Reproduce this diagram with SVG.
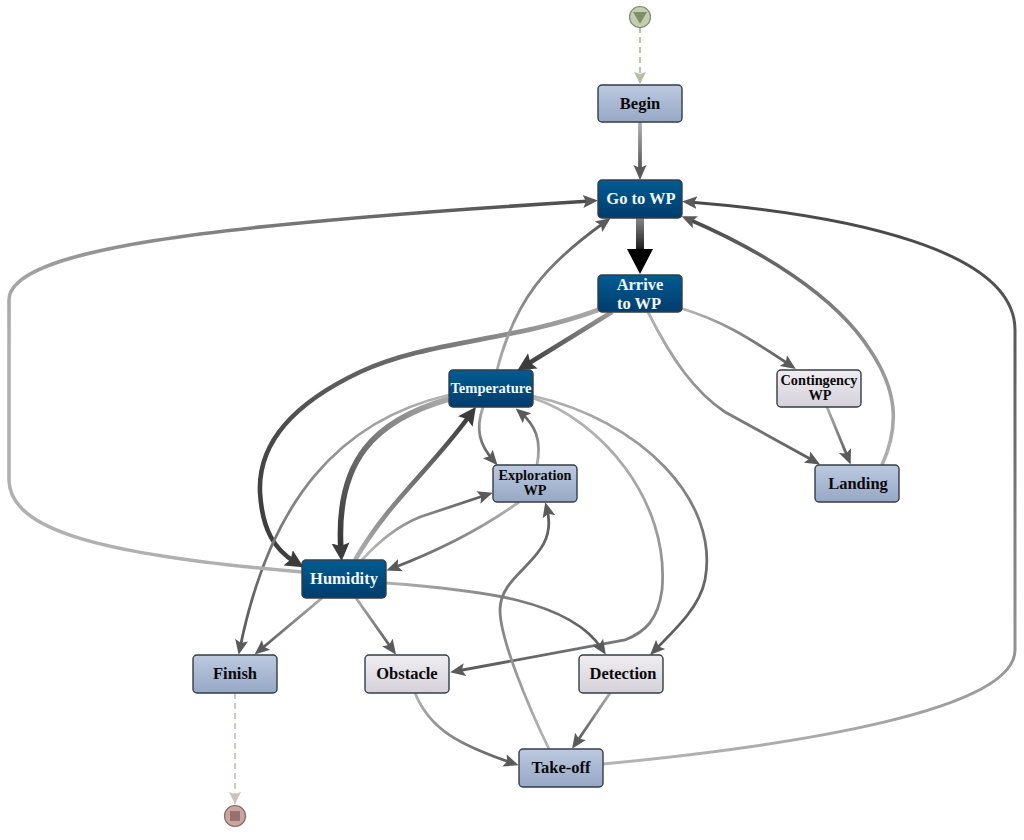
<svg xmlns="http://www.w3.org/2000/svg" width="1024" height="840" viewBox="0 0 1024 840">
<style>
.n{stroke:#333d47;stroke-width:1.4}
.blue{fill:url(#gb)}.dark{fill:url(#gd)}.grey{fill:url(#gg)}
text{font-family:"Liberation Serif","Times New Roman",serif;font-weight:bold;text-anchor:middle;fill:#0a0a0a}
.l{font-size:16.5px}.s{font-size:14.3px}.w{fill:#f4f7fa}
#connectors path{fill:none}
.e{stroke-width:2.8;marker-end:url(#m)}
.t{stroke-width:4.6;marker-end:url(#k)}
</style>
<defs>
<linearGradient id="gb" x1="0" y1="0" x2="0" y2="1"><stop offset="0" stop-color="#bcc9e0"/><stop offset="1" stop-color="#97a8c5"/></linearGradient>
<linearGradient id="gd" x1="0" y1="0" x2="0" y2="1"><stop offset="0" stop-color="#005c92"/><stop offset="1" stop-color="#003c6c"/></linearGradient>
<linearGradient id="gg" x1="0" y1="0" x2="0" y2="1"><stop offset="0" stop-color="#f0edf2"/><stop offset="1" stop-color="#d4d1d9"/></linearGradient>
<marker id="m" markerUnits="userSpaceOnUse" markerWidth="18" markerHeight="18" viewBox="0 0 18 18" refX="8" refY="9" orient="auto"><path d="M0 2.5L15 9L0 15.5L3 9Z" fill="#5a5a5a"/></marker>
<marker id="k" markerUnits="userSpaceOnUse" markerWidth="22" markerHeight="22" viewBox="0 0 22 22" refX="8" refY="11" orient="auto"><path d="M0 2L18 11L0 20L3 11Z" fill="#3c3c3c"/></marker>
<marker id="x" markerUnits="userSpaceOnUse" markerWidth="28" markerHeight="30" viewBox="0 0 28 30" refX="6" refY="15" orient="auto"><path d="M0 2L25 15L0 28Z" fill="#000"/></marker>
<marker id="ds" markerUnits="userSpaceOnUse" markerWidth="14" markerHeight="14" viewBox="0 0 14 14" refX="12" refY="7" orient="auto"><path d="M0 1L12 7L0 13L2 7Z" fill="#b4bfa4"/></marker>
<marker id="de" markerUnits="userSpaceOnUse" markerWidth="14" markerHeight="14" viewBox="0 0 14 14" refX="12" refY="7" orient="auto"><path d="M0 1L12 7L0 13L2 7Z" fill="#cfc2bd"/></marker>
<linearGradient id="a1" gradientUnits="userSpaceOnUse" x1="640" y1="122" x2="640" y2="175"><stop offset="0" stop-color="#b0b0b0"/><stop offset="1" stop-color="#4a4a4a"/></linearGradient>
<linearGradient id="a2" gradientUnits="userSpaceOnUse" x1="640" y1="218" x2="640" y2="258"><stop offset="0" stop-color="#888"/><stop offset="1" stop-color="#000"/></linearGradient>
<linearGradient id="a3" gradientUnits="userSpaceOnUse" x1="612" y1="312" x2="525" y2="366"><stop offset="0" stop-color="#999"/><stop offset="1" stop-color="#3c3c3c"/></linearGradient>
<linearGradient id="a4" gradientUnits="userSpaceOnUse" x1="598" y1="310" x2="262" y2="540"><stop offset="0" stop-color="#aaa"/><stop offset="0.5" stop-color="#666"/><stop offset="1" stop-color="#3c3c3c"/></linearGradient>
<linearGradient id="a5" gradientUnits="userSpaceOnUse" x1="648" y1="312" x2="815" y2="462"><stop offset="0" stop-color="#b4b4b4"/><stop offset="1" stop-color="#5a5a5a"/></linearGradient>
<linearGradient id="a6" gradientUnits="userSpaceOnUse" x1="680" y1="308" x2="790" y2="366"><stop offset="0" stop-color="#b8b8b8"/><stop offset="1" stop-color="#5a5a5a"/></linearGradient>
<linearGradient id="a7" gradientUnits="userSpaceOnUse" x1="827" y1="407" x2="848" y2="458"><stop offset="0" stop-color="#b0b0b0"/><stop offset="1" stop-color="#5a5a5a"/></linearGradient>
<linearGradient id="a8" gradientUnits="userSpaceOnUse" x1="882" y1="465" x2="690" y2="220"><stop offset="0" stop-color="#b0b0b0"/><stop offset="1" stop-color="#4a4a4a"/></linearGradient>
<linearGradient id="a9" gradientUnits="userSpaceOnUse" x1="497" y1="370" x2="605" y2="222"><stop offset="0" stop-color="#aaa"/><stop offset="1" stop-color="#5a5a5a"/></linearGradient>
<linearGradient id="b1" gradientUnits="userSpaceOnUse" x1="483" y1="407" x2="493" y2="460"><stop offset="0" stop-color="#aaa"/><stop offset="1" stop-color="#5a5a5a"/></linearGradient>
<linearGradient id="b2" gradientUnits="userSpaceOnUse" x1="537" y1="465" x2="522" y2="413"><stop offset="0" stop-color="#b0b0b0"/><stop offset="1" stop-color="#5a5a5a"/></linearGradient>
<linearGradient id="b3" gradientUnits="userSpaceOnUse" x1="449" y1="399" x2="342" y2="552"><stop offset="0" stop-color="#aaa"/><stop offset="1" stop-color="#333"/></linearGradient>
<linearGradient id="b4" gradientUnits="userSpaceOnUse" x1="355" y1="560" x2="470" y2="415"><stop offset="0" stop-color="#b0b0b0"/><stop offset="1" stop-color="#3c3c3c"/></linearGradient>
<linearGradient id="b5" gradientUnits="userSpaceOnUse" x1="449" y1="395" x2="240" y2="648"><stop offset="0" stop-color="#b4b4b4"/><stop offset="1" stop-color="#5a5a5a"/></linearGradient>
<linearGradient id="b6" gradientUnits="userSpaceOnUse" x1="533" y1="396" x2="655" y2="650"><stop offset="0" stop-color="#b4b4b4"/><stop offset="1" stop-color="#5a5a5a"/></linearGradient>
<linearGradient id="b7" gradientUnits="userSpaceOnUse" x1="533" y1="398" x2="457" y2="671"><stop offset="0" stop-color="#b4b4b4"/><stop offset="0.6" stop-color="#888"/><stop offset="1" stop-color="#5a5a5a"/></linearGradient>
<linearGradient id="b8" gradientUnits="userSpaceOnUse" x1="302" y1="572" x2="590" y2="200"><stop offset="0" stop-color="#b0b0b0"/><stop offset="1" stop-color="#4a4a4a"/></linearGradient>
<linearGradient id="b9" gradientUnits="userSpaceOnUse" x1="362" y1="560" x2="486" y2="495"><stop offset="0" stop-color="#bbb"/><stop offset="1" stop-color="#5a5a5a"/></linearGradient>
<linearGradient id="c1" gradientUnits="userSpaceOnUse" x1="519" y1="502" x2="393" y2="568"><stop offset="0" stop-color="#b4b4b4"/><stop offset="1" stop-color="#5a5a5a"/></linearGradient>
<linearGradient id="c2" gradientUnits="userSpaceOnUse" x1="322" y1="598" x2="260" y2="650"><stop offset="0" stop-color="#aaa"/><stop offset="1" stop-color="#5a5a5a"/></linearGradient>
<linearGradient id="c3" gradientUnits="userSpaceOnUse" x1="356" y1="598" x2="392" y2="649"><stop offset="0" stop-color="#aaa"/><stop offset="1" stop-color="#5a5a5a"/></linearGradient>
<linearGradient id="c4" gradientUnits="userSpaceOnUse" x1="386" y1="583" x2="602" y2="649"><stop offset="0" stop-color="#b0b0b0"/><stop offset="1" stop-color="#5a5a5a"/></linearGradient>
<linearGradient id="c5" gradientUnits="userSpaceOnUse" x1="415" y1="693" x2="512" y2="763"><stop offset="0" stop-color="#b0b0b0"/><stop offset="1" stop-color="#5a5a5a"/></linearGradient>
<linearGradient id="c6" gradientUnits="userSpaceOnUse" x1="610" y1="693" x2="576" y2="743"><stop offset="0" stop-color="#aaa"/><stop offset="1" stop-color="#5a5a5a"/></linearGradient>
<linearGradient id="c7" gradientUnits="userSpaceOnUse" x1="549" y1="749" x2="547" y2="509"><stop offset="0" stop-color="#b4b4b4"/><stop offset="1" stop-color="#5a5a5a"/></linearGradient>
<linearGradient id="c8" gradientUnits="userSpaceOnUse" x1="603" y1="764" x2="690" y2="202"><stop offset="0" stop-color="#b4b4b4"/><stop offset="1" stop-color="#4a4a4a"/></linearGradient>
</defs>
<rect width="1024" height="840" fill="#fff"/>
<g id="connectors">
<path d="M640 27V84" stroke="#b4bfa4" stroke-width="1.8" stroke-dasharray="6 4" marker-end="url(#ds)"/>
<path d="M235 693V804" stroke="#cfc2bd" stroke-width="1.8" stroke-dasharray="6 4" marker-end="url(#de)"/>
<path d="M640 122V173" stroke="url(#a1)" stroke-width="3.8" marker-end="url(#m)"/>
<path d="M640 218V255" stroke="url(#a2)" stroke-width="8" marker-end="url(#x)"/>
<path class="t" d="M612 312L526 365" stroke="url(#a3)"/>
<path class="t" d="M598 310C510 342 430 340 360 372C290 405 258 445 260 492C262 530 275 550 295 562" stroke="url(#a4)"/>
<path class="e" d="M648 312C672 360 695 392 725 412L814 461" stroke="url(#a5)"/>
<path class="e" d="M680 308C720 320 745 335 790 365" stroke="url(#a6)"/>
<path class="e" d="M827 407L848 458" stroke="url(#a7)"/>
<path d="M882 465C900 425 897 390 870 350C835 295 760 250 688 219" stroke="url(#a8)" stroke-width="3.6" marker-end="url(#m)"/>
<path class="e" d="M497 370C515 300 545 265 605 222" stroke="url(#a9)"/>
<path class="e" d="M483 407C475 430 480 445 493 460" stroke="url(#b1)"/>
<path class="e" d="M537 465C542 440 535 425 521 413" stroke="url(#b2)"/>
<path d="M449 399C375 420 335 460 341 551" stroke="url(#b3)" stroke-width="5.6" marker-end="url(#k)"/>
<path class="t" d="M355 560C390 500 430 470 470 415" stroke="url(#b4)"/>
<path class="e" d="M449 395C340 420 270 500 240 648" stroke="url(#b5)"/>
<path class="e" d="M533 396C640 420 720 500 705 580C700 605 680 625 655 650" stroke="url(#b6)"/>
<path class="e" d="M533 398C600 420 670 500 662 590C658 620 645 632 625 640L457 671" stroke="url(#b7)"/>
<path d="M302 572C100 555 10 530 9 480V300C9 250 200 225 591 201" stroke="url(#b8)" stroke-width="3.6" marker-end="url(#m)"/>
<path class="e" d="M362 560C380 540 400 525 420 517L486 495" stroke="url(#b9)"/>
<path class="e" d="M519 502C480 530 440 550 393 568" stroke="url(#c1)"/>
<path class="e" d="M322 598L260 650" stroke="url(#c2)"/>
<path class="e" d="M356 598L392 649" stroke="url(#c3)"/>
<path class="e" d="M386 583C480 590 570 600 602 649" stroke="url(#c4)"/>
<path class="e" d="M415 693C430 730 460 745 512 763" stroke="url(#c5)"/>
<path class="e" d="M610 693L576 743" stroke="url(#c6)"/>
<path class="e" d="M549 749C530 710 500 640 500 610C500 570 560 560 547 509" stroke="url(#c7)"/>
<path d="M603 764C800 745 1015 710 1015 650V330C1015 250 850 215 689 202" stroke="url(#c8)" stroke-width="3" marker-end="url(#m)"/>
</g>
<g id="start"><circle cx="640" cy="17" r="10.5" fill="#c6ceb2" stroke="#7f8c70" stroke-width="1.2"/><path d="M633 12H647L640 24Z" fill="#7f8f6c"/></g>
<g id="end"><circle cx="235" cy="816" r="10.5" fill="#c9a6a1" stroke="#8a6762" stroke-width="1.2"/><rect x="230" y="811" width="10" height="10" fill="#96716d"/></g>
<g id="begin"><rect class="n blue" x="598" y="85" width="84" height="37" rx="4"/><text class="l" x="640" y="109">Begin</text></g>
<g id="goto"><rect class="n dark" x="598" y="180" width="84" height="38" rx="4"/><text class="l w" x="641" y="204">Go to WP</text></g>
<g id="arrive"><rect class="n dark" x="598" y="275" width="84" height="37" rx="4"/><text class="l w" x="640" y="290">Arrive</text><text class="l w" x="639" y="309">to WP</text></g>
<g id="temperature"><rect class="n dark" x="449" y="370" width="84" height="37" rx="4"/><text class="s w" x="491" y="393" style="font-size:14.6px">Temperature</text></g>
<g id="contingency"><rect class="n grey" x="777" y="370" width="84" height="37" rx="4"/><text class="s" x="819" y="385">Contingency</text><text class="s" x="820" y="400">WP</text></g>
<g id="exploration"><rect class="n blue" x="493" y="465" width="84" height="37" rx="4"/><text class="s" x="535" y="480">Exploration</text><text class="s" x="535" y="495">WP</text></g>
<g id="landing"><rect class="n blue" x="815" y="465" width="84" height="37" rx="4"/><text class="l" x="858" y="489">Landing</text></g>
<g id="humidity"><rect class="n dark" x="302" y="560" width="84" height="38" rx="4"/><text class="l w" x="344" y="584">Humidity</text></g>
<g id="finish"><rect class="n blue" x="193" y="655" width="84" height="38" rx="4"/><text class="l" x="235" y="679">Finish</text></g>
<g id="obstacle"><rect class="n grey" x="365" y="655" width="84" height="38" rx="4"/><text class="l" x="407" y="679">Obstacle</text></g>
<g id="detection"><rect class="n grey" x="579" y="655" width="84" height="38" rx="4"/><text class="l" x="623" y="679">Detection</text></g>
<g id="takeoff"><rect class="n blue" x="519" y="749" width="84" height="38" rx="4"/><text class="l" x="561" y="773">Take-off</text></g>
</svg>
